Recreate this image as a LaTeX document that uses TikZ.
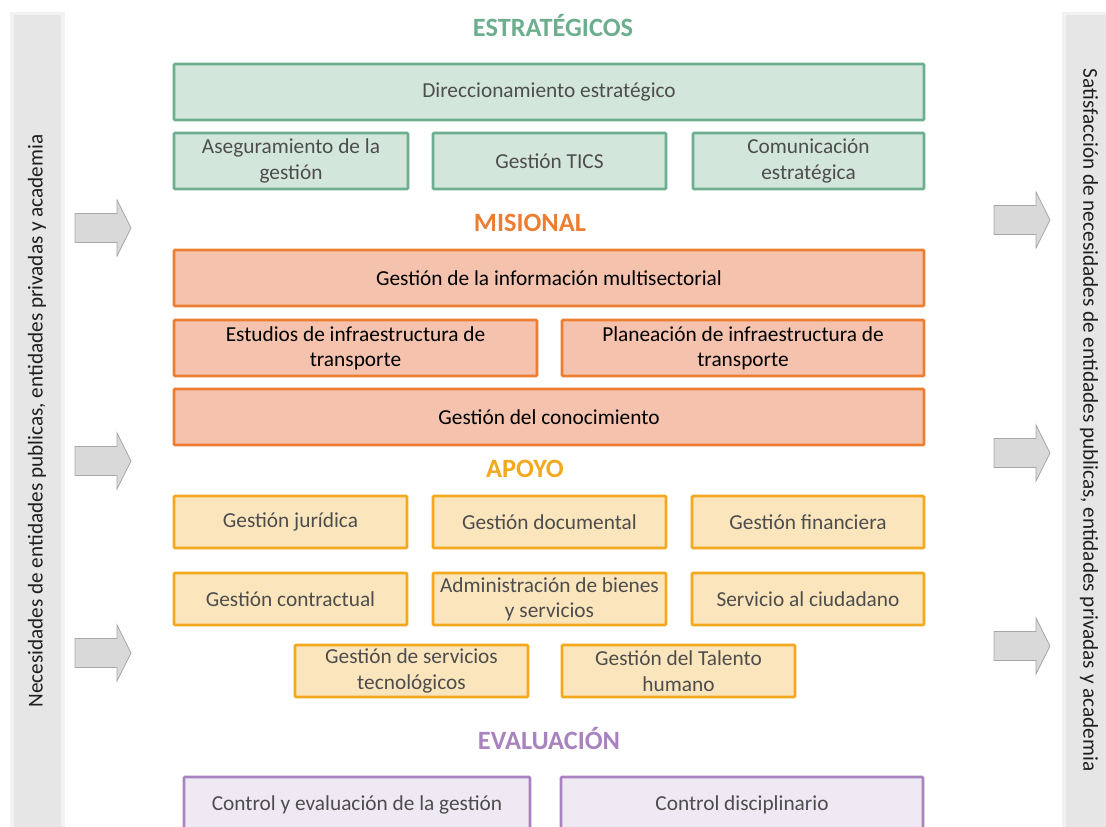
\documentclass[tikz,border=0pt]{standalone}
\usepackage{fontspec}
\setmainfont{Carlito}
\definecolor{gfill}{HTML}{D3E6DC}
\definecolor{gline}{HTML}{6DAE8E}
\definecolor{ofill}{HTML}{F4C2AD}
\definecolor{oline}{HTML}{ED7D31}
\definecolor{yfill}{HTML}{FBE5BC}
\definecolor{yline}{HTML}{F4A81D}
\definecolor{pfill}{HTML}{EFE9F3}
\definecolor{pline}{HTML}{A983C0}
\definecolor{txtgray}{HTML}{4D4D4D}
\definecolor{barfill}{HTML}{E6E6E6}
\definecolor{barline}{HTML}{F2F2F2}
\definecolor{arrfill}{HTML}{D9D9D9}
\definecolor{arrline}{HTML}{A6A6A6}
\newcommand\pbox[7]{\node[#6, minimum width={(#4-#2)*0.75pt}, minimum height={(#5-#3)*0.75pt}] (#1) at ({(#2+#4)/2},{(#3+#5)/2}) {#7};}
\newcommand\rarr[3]{\draw[arrstyle] (#2,#3-14.5) -- (#2+42,#3-14.5) -- (#2+42,#3-28) -- (#2+56,#3) -- (#2+42,#3+28) -- (#2+42,#3+14.5) -- (#2,#3+14.5) -- cycle;}
\begin{document}
\begin{tikzpicture}[x=0.75pt,y=-0.75pt,
  base/.style={draw, line width=2pt, inner sep=0pt, align=center, font=\fontsize{16}{19}\selectfont, rounded corners=0.8pt},
  gbox/.style={base, fill=gfill, draw=gline, text=txtgray},
  obox/.style={base, fill=ofill, draw=oline, text=black},
  ybox/.style={base, fill=yfill, draw=yline, text=txtgray},
  pbx/.style={base, fill=pfill, draw=pline, text=txtgray},
  ttl/.style={font=\fontsize{19.8}{22}\selectfont\bfseries},
  arrstyle/.style={fill=arrfill, draw=arrline, line width=0.6pt},
  bartxt/.style={font=\fontsize{15.9}{18}\selectfont, text=black!88}]
\useasboundingbox (0,0) rectangle (1106,826);
% side bars
\fill[barline] (10,12) rectangle (65,830);
\fill[barfill] (14,15) rectangle (61,830);
\fill[barline] (1062,12) rectangle (1110,830);
\fill[barfill] (1066,15) rectangle (1110,830);
\node[bartxt, rotate=90] (lt) at (37,421) {Necesidades de entidades publicas, entidades privadas y academia};
\node[bartxt, rotate=-90] (rt) at (1089,420) {Satisfacción de necesidades de entidades publicas, entidades privadas y academia};
% arrows
\rarr{la}{75}{228}
\rarr{lb}{75}{461}
\rarr{lc}{75}{653}
\rarr{ra}{994}{220}
\rarr{rb}{994}{453}
\rarr{rc}{994}{646}
% titles
\node[ttl, text=gline] (t1) at (553,25) {ESTRATÉGICOS};
\node[ttl, text=oline] (t2) at (530,223) {MISIONAL};
\node[ttl, text=yline] (t3) at (525,469) {APOYO};
\node[ttl, text=pline] (t4) at (549,738) {EVALUACIÓN};
% estrategicos
\pbox{e1}{174}{64}{924}{120}{gbox}{Direccionamiento estratégico}
\pbox{e2}{174}{133}{408}{189}{gbox}{Aseguramiento de la\\gestión}
\pbox{e3}{433}{133}{666}{189}{gbox}{Gestión TICS}
\pbox{e4}{693}{133}{924}{189}{gbox}{Comunicación\\estratégica}
% misional
\pbox{m1}{174}{250}{924}{306}{obox}{Gestión de la información multisectorial}
\pbox{m2}{174}{320}{537}{376}{obox}{Estudios de infraestructura de\\transporte}
\pbox{m3}{562}{320}{924}{376}{obox}{Planeación de infraestructura de\\transporte}
\pbox{m4}{174}{389}{924}{445}{obox}{Gestión del conocimiento}
% apoyo
\pbox{a1}{174}{496}{407}{548}{ybox}{Gestión jurídica}
\pbox{a2}{433}{496}{666}{548}{ybox}{Gestión documental}
\pbox{a3}{692}{496}{924}{548}{ybox}{Gestión financiera}
\pbox{a4}{174}{573}{407}{625}{ybox}{Gestión contractual}
\pbox{a5}{433}{573}{666}{625}{ybox}{Administración de bienes\\y servicios}
\pbox{a6}{692}{573}{924}{625}{ybox}{Servicio al ciudadano}
\pbox{a7}{295}{645}{528}{697}{ybox}{Gestión de servicios\\tecnológicos}
\pbox{a8}{562}{645}{795}{697}{ybox}{Gestión del Talento\\humano}
% evaluacion
\pbox{v1}{184}{777}{530}{832}{pbx}{\raisebox{2.5pt}{Control y evaluación de la gestión}}
\pbox{v2}{561}{777}{923}{832}{pbx}{\raisebox{2.5pt}{Control disciplinario}}
\end{tikzpicture}
\end{document}
